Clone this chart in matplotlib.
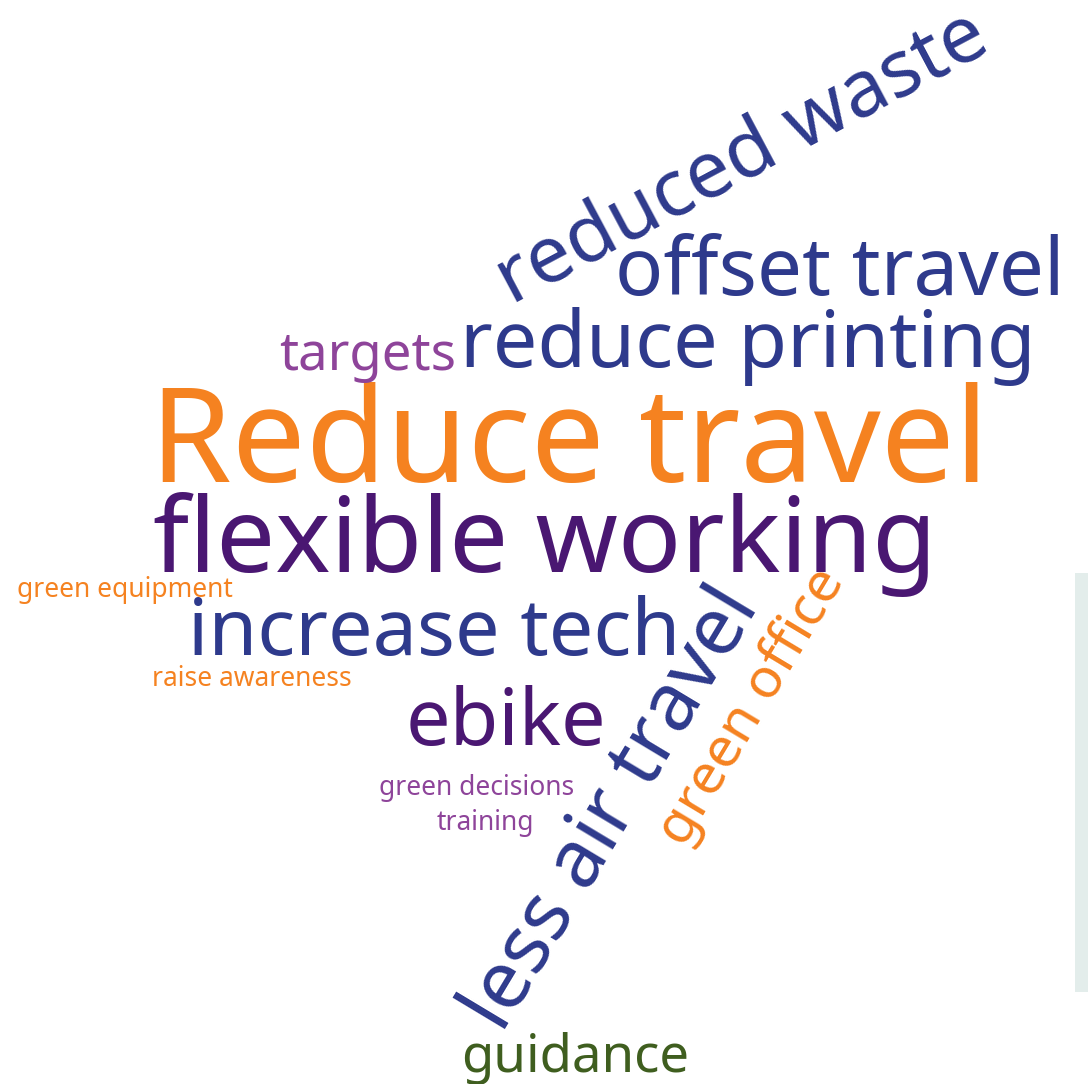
import matplotlib
matplotlib.use("Agg")
import matplotlib.pyplot as plt
from matplotlib.patches import Rectangle

words = ["Reduce travel", "flexible working", "increase tech", "offset travel",
         "reduce printing", "reduced waste", "less air travel", "ebike",
         "green office", "guidance", "targets", "green equipment",
         "raise awareness", "green decisions", "training"]
sizes = [94.5, 75.5, 57, 57.5, 57, 57, 58, 57, 40, 38, 38, 19, 19, 19, 19]
colors = ["#F58220", "#4A1772", "#2E3A8C", "#2E3A8C", "#2E3A8C", "#2E3A8C",
          "#2E3A8C", "#4A1772", "#F58220", "#3F5E1F", "#8E449A", "#F58220",
          "#F58220", "#8E449A", "#8E449A"]
angles = [0, 0, 0, 0, 0, 28, 59, 0, 59, 0, 0, 0, 0, 0, 0]
# anchor points (pixel coords, baseline-left)
xs = [150, 153, 188, 615, 460, 512, 502, 406, 684, 461, 279, 17, 152, 379, 437]
ys = [482, 572, 655, 295, 367, 305, 1034, 745, 848, 1072, 370, 597, 686, 795, 830]

W, H = 1088, 1084
fig = plt.figure(figsize=(W / 100, H / 100), dpi=100)
ax = fig.add_axes([0, 0, 1, 1])
ax.set_xlim(0, W)
ax.set_ylim(H, 0)
ax.axis("off")

ax.add_patch(Rectangle((1075, 573), 13, 419, facecolor="#E3EDEB", edgecolor="none"))

for w, s, c, a, x, y in zip(words, sizes, colors, angles, xs, ys):
    ax.text(x, y, w, fontsize=s, color=c, rotation=a, rotation_mode="anchor",
            ha="left", va="baseline", family=["Noto Sans", "DejaVu Sans"])

fig.savefig("out.png", dpi=100)
